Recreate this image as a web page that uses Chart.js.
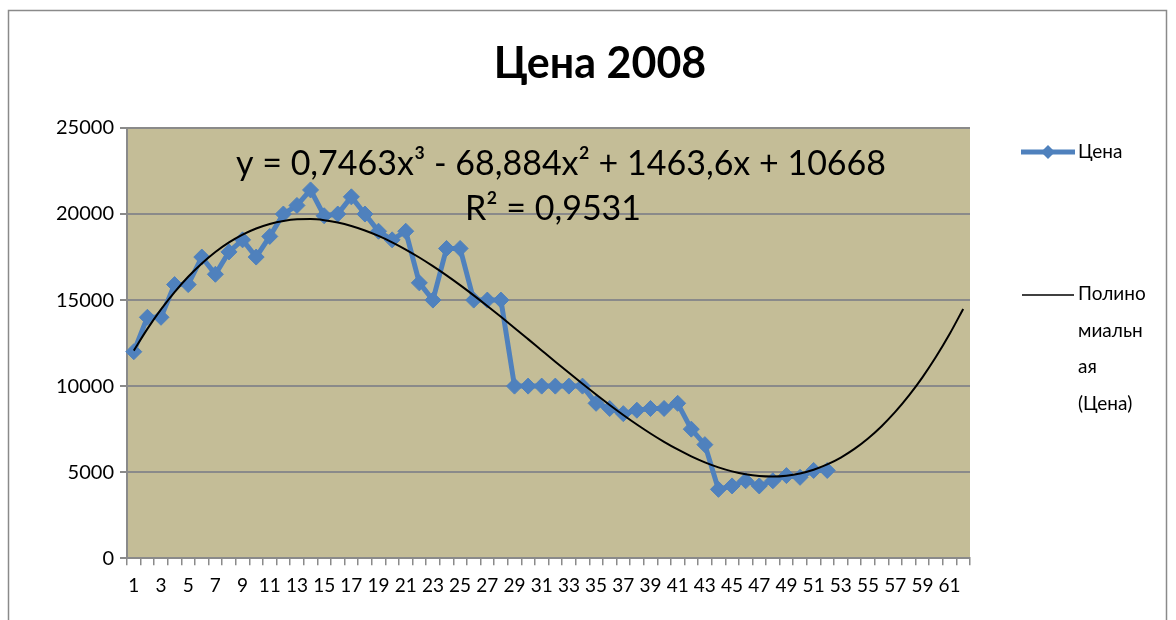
<!DOCTYPE html>
<html>
<head>
<meta charset="utf-8">
<script src="https://cdn.jsdelivr.net/npm/chart.js@4"></script>
<style>
  html, body { margin: 0; padding: 0; background: #ffffff; }
  #wrap { width: 1176px; height: 620px; }
</style>
</head>
<body>
<div id="wrap"><canvas id="priceChart" width="1176" height="620"></canvas></div>
<script>
// Kategorien 1..62 (Trend wird bis 62 fortgeschrieben)
const categories = Array.from({ length: 62 }, (_, i) => String(i + 1));

const priceValues = [
  12000, 14000, 14000, 15900, 15900, 17500, 16500, 17800, 18500, 17500,
  18700, 20000, 20500, 21400, 19900, 20000, 21000, 20000, 19000, 18500,
  19000, 16000, 15000, 18000, 18000, 15000, 15000, 15000, 10000, 10000,
  10000, 10000, 10000, 10000, 9000, 8700, 8400, 8600, 8700, 8700,
  9000, 7500, 6600, 4000, 4200, 4500, 4200, 4500, 4800, 4700,
  5100, 5100
];

// Koeffizienten der Trendlinie (aus der Gleichung im Diagramm)
const trendCoefs = [0.7463, -68.884, 1463.6, 10668];
const trendValues = categories.map((_, i) => {
  const x = i + 1;
  return trendCoefs[0] * x ** 3 + trendCoefs[1] * x ** 2 + trendCoefs[2] * x + trendCoefs[3];
});

const yTicks = [0, 5000, 10000, 15000, 20000, 25000];

const FONT = "Lato, 'Noto Sans', 'DejaVu Sans', sans-serif";
const BLUE = "#4F81BD";

// Hintergrund, Rahmen, Titel, Gleichung und Legende
const decorPlugin = {
  id: "decor",
  beforeDraw(chart) {
    const { ctx, chartArea } = chart;
    ctx.save();
    ctx.fillStyle = "#ffffff";
    ctx.fillRect(0, 0, chart.width, chart.height);
    ctx.strokeStyle = "#8a8a8a";
    ctx.lineWidth = 1.5;
    ctx.strokeRect(8.5, 10.5, 1158, 620);
    ctx.fillStyle = "#C4BD97";
    ctx.fillRect(chartArea.left, chartArea.top, chartArea.right - chartArea.left, chartArea.bottom - chartArea.top);
    ctx.restore();
  },
  afterDraw(chart) {
    const { ctx } = chart;
    ctx.save();
    ctx.fillStyle = "#000000";
    ctx.textAlign = "center";
    ctx.textBaseline = "middle";
    ctx.font = "bold 43px " + FONT;
    ctx.fillText("Цена 2008", 600, 64);

    ctx.font = "34px " + FONT;
    ctx.fillText("y = 0,7463x³ - 68,884x² + 1463,6x + 10668", 561, 164);
    ctx.fillText("R² = 0,9531", 553, 209);

    // Legende
    ctx.textAlign = "left";
    ctx.font = "19px " + FONT;
    ctx.strokeStyle = BLUE;
    ctx.lineWidth = 5;
    ctx.beginPath();
    ctx.moveTo(1021, 152);
    ctx.lineTo(1075, 152);
    ctx.stroke();
    ctx.fillStyle = BLUE;
    ctx.beginPath();
    ctx.moveTo(1048, 145);
    ctx.lineTo(1055, 152);
    ctx.lineTo(1048, 159);
    ctx.lineTo(1041, 152);
    ctx.closePath();
    ctx.fill();
    ctx.fillStyle = "#000000";
    ctx.fillText("Цена", 1078, 152);

    ctx.strokeStyle = "#000000";
    ctx.lineWidth = 1.5;
    ctx.beginPath();
    ctx.moveTo(1022, 295);
    ctx.lineTo(1074, 295);
    ctx.stroke();
    ["Полино", "миальн", "ая", "(Цена)"].forEach((t, i) => {
      ctx.fillText(t, 1078, 294 + i * 36.5);
    });
    ctx.restore();
  }
};

const ctx = document.getElementById("priceChart").getContext("2d");

new Chart(ctx, {
  type: "line",
  data: {
    labels: categories,
    datasets: [
      {
        label: "Цена",
        data: priceValues,
        borderColor: BLUE,
        backgroundColor: BLUE,
        borderWidth: 5,
        pointStyle: "rectRot",
        pointRadius: 8,
        pointBorderWidth: 1,
        pointBackgroundColor: BLUE,
        pointBorderColor: BLUE,
        tension: 0,
        order: 2
      },
      {
        label: "Полиномиальная (Цена)",
        data: trendValues,
        borderColor: "#000000",
        borderWidth: 2,
        pointRadius: 0,
        cubicInterpolationMode: "monotone",
        order: 1
      }
    ]
  },
  options: {
    responsive: false,
    animation: false,
    layout: {
      padding: { top: 128, bottom: 14, left: 10, right: 206 }
    },
    plugins: {
      legend: { display: false },
      tooltip: { enabled: false },
      title: { display: false }
    },
    scales: {
      x: {
        offset: true,
        grid: {
          offset: true,
          drawOnChartArea: false,
          color: "#8a8a8a",
          tickLength: 7,
          lineWidth: 1.5
        },
        border: { color: "#8a8a8a", width: 2 },
        ticks: {
          autoSkip: false,
          maxRotation: 0,
          minRotation: 0,
          color: "#000000",
          padding: 9,
          font: { family: FONT, size: 19 },
          callback: function (value, index) {
            return index % 2 === 0 ? categories[index] : "";
          }
        }
      },
      y: {
        min: 0,
        max: 25000,
        afterFit(scale) { scale.width = 117; },
        afterBuildTicks(scale) { scale.ticks = yTicks.map(v => ({ value: v })); },
        grid: {
          color: "#8a8a8a",
          lineWidth: 2,
          tickLength: 7
        },
        border: { color: "#8a8a8a", width: 2 },
        ticks: {
          color: "#000000",
          padding: 6,
          font: { family: FONT, size: 20 },
          callback: function (value) { return String(value); }
        }
      }
    }
  },
  plugins: [decorPlugin]
});
</script>
</body>
</html>
